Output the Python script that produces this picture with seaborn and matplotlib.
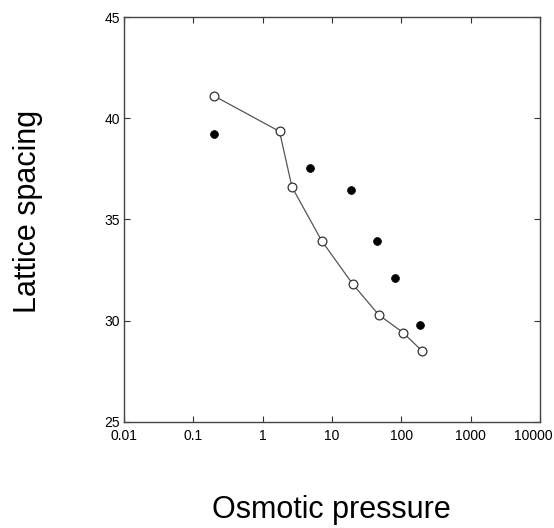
"""Lattice spacing vs osmotic pressure (log x), open vs filled series."""
import matplotlib
matplotlib.use("Agg")
import matplotlib.pyplot as plt
import matplotlib.transforms as mtransforms
import numpy as np
import pandas as pd
import seaborn as sns

# open circles, joined by a line
open_pressure = [0.2, 1.75, 2.65, 7.1, 20, 47, 107, 200]
open_spacing = [41.1, 39.35, 36.6, 33.95, 31.8, 30.3, 29.4, 28.5]

# filled circles, no line
filled_pressure = [0.2, 4.8, 18.7, 45, 81, 187]
filled_spacing = [39.2, 37.55, 36.45, 33.95, 32.1, 29.8]

x_ticks = [0.01, 0.1, 1, 10, 100, 1000, 10000]
x_labels = ["0.01", "0.1", "1", "10", "100", "1000", "10000"]
y_ticks = [25, 30, 35, 40, 45]

sns.set_theme(style="ticks")
plt.rcParams["font.family"] = ["Liberation Sans", "DejaVu Sans"]
plt.rcParams["text.color"] = "black"

df_open = pd.DataFrame({"p": open_pressure, "d": open_spacing})
df_filled = pd.DataFrame({"p": filled_pressure, "d": filled_spacing})

fig = plt.figure(figsize=(5.54, 5.28), dpi=100)
ax = fig.add_axes([0.2238, 0.2008, 0.7509, 0.767])

sns.lineplot(data=df_open, x="p", y="d", sort=False, color="#555555",
             linewidth=0.9, ax=ax, zorder=2)
sns.scatterplot(data=df_open, x="p", y="d", marker="o", s=40,
                facecolor="white", edgecolor="#333333", linewidth=0.9,
                ax=ax, zorder=3)
sns.scatterplot(data=df_filled, x="p", y="d", marker="o", s=32,
                color="black", edgecolor="black", linewidth=0.5,
                ax=ax, zorder=3)

ax.set_xscale("log")
ax.set_xlim(0.01, 10000)
ax.set_ylim(25, 45)
ax.set_xticks(x_ticks)
ax.set_xticklabels(x_labels)
ax.set_yticks(y_ticks)
ax.minorticks_off()
ax.tick_params(direction="in", length=4, width=0.8, labelsize=10,
               top=True, right=True, colors="#333333", labelcolor="black")
ax.tick_params(axis="x", pad=5)
ax.tick_params(axis="y", pad=3)
for sp in ax.spines.values():
    sp.set_color("#444444")
    sp.set_linewidth(1.0)

# last label sits a bit left of its tick, as in the original scan
last = ax.get_xticklabels()[-1]
last.set_transform(last.get_transform() +
                   mtransforms.ScaledTranslation(-7 / 100, 0, fig.dpi_scale_trans))

ax.set_xlabel("")
ax.set_ylabel("")
fig.text(0.598, 0.034, "Osmotic pressure", fontsize=22, ha="center", va="center")
fig.text(0.05, 0.6, "Lattice spacing", fontsize=22, rotation=90,
         ha="center", va="center")

fig.savefig("out.png", dpi=100, facecolor="white")
